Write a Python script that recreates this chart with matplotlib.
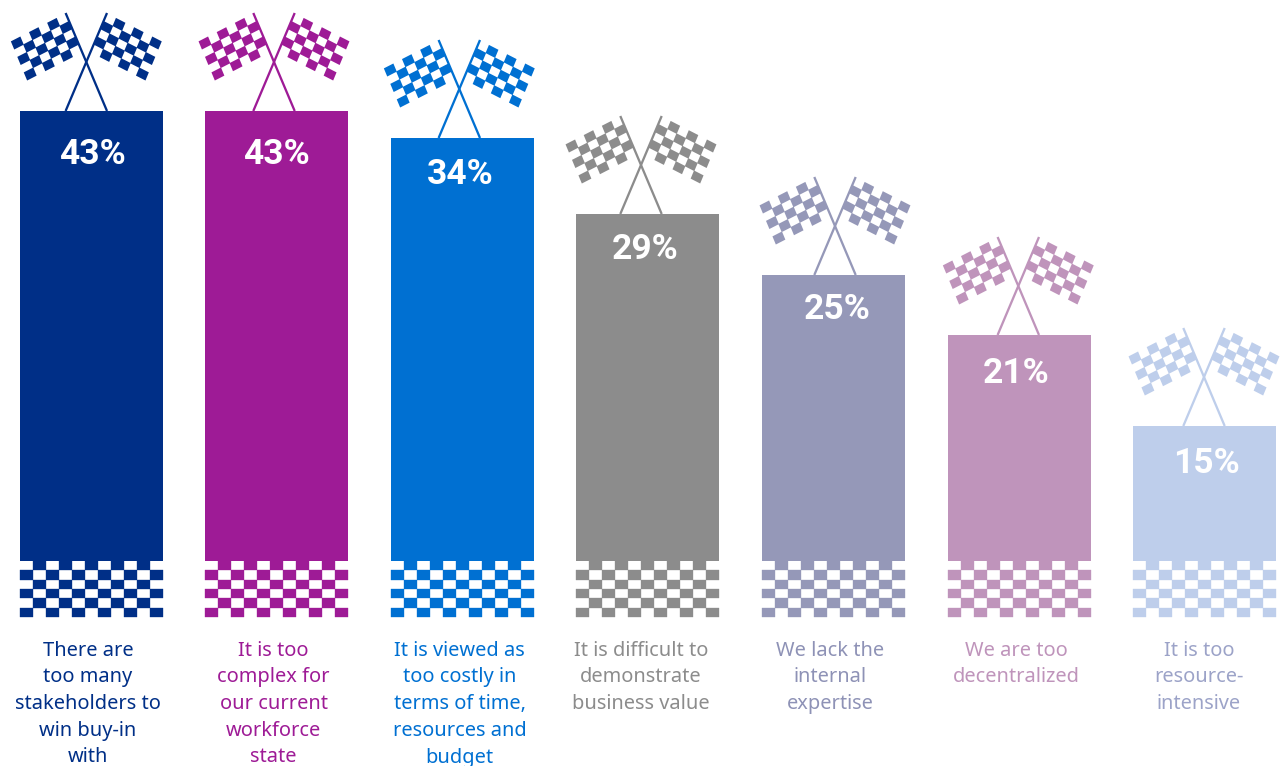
import numpy as np
import matplotlib
matplotlib.use("Agg")
import matplotlib.pyplot as plt
from matplotlib.collections import PolyCollection

# Survey results
categories = [
    "There are\ntoo many\nstakeholders to\nwin buy-in\nwith",
    "It is too\ncomplex for\nour current\nworkforce\nstate",
    "It is viewed as\ntoo costly in\nterms of time,\nresources and\nbudget",
    "It is difficult to\ndemonstrate\nbusiness value",
    "We lack the\ninternal\nexpertise",
    "We are too\ndecentralized",
    "It is too\nresource-\nintensive",
]
values = [43, 43, 34, 29, 25, 21, 15]

# Palette, one colour per category; the captions differ only on the palest one
colors = ["#002F87", "#9E1B96", "#0070D2", "#8C8C8C", "#9598B8", "#BF94BB", "#BECEEB"]
text_colors = ["#002F87", "#9E1B96", "#0070D2", "#8C8C8C", "#8E92B6", "#BF94BB", "#9CA3C8"]

# Layout in figure pixels
W, H = 1287, 766
BAR_W = 143
BASE_Y = 561
TOP_Y = 111
bar_left = [20, 205, 391, 576, 762, 948, 1133]
flag_cx = [86.3, 274, 459.3, 641, 835, 1018.3, 1204]
pct_cx = [92, 276, 460, 645, 837, 1016, 1206]
pct_drop = [40, 40, 33, 32, 31, 35, 34]
text_cx = [88, 273.5, 459.5, 641, 830.5, 1016, 1199]

# The bars use a stepped value axis: height in pixels at each listed value
scale_vals = [0, 15, 21, 25, 29, 34, 43]
scale_px = [0, 135, 226, 286, 347, 423, 450]


def to_px(v):
    return np.interp(v, scale_vals, scale_px)


def from_px(p):
    return np.interp(p, scale_px, scale_vals)


fig = plt.figure(figsize=(W / 100, H / 100), dpi=100, facecolor="white")

ax = fig.add_axes([0, (H - BASE_Y) / H, 1, (BASE_Y - TOP_Y) / H])
ax.set_xlim(0, W)
ax.set_yscale("function", functions=(to_px, from_px))
ax.set_ylim(0, 43)
ax.axis("off")
ax.bar(bar_left, values, width=BAR_W, align="edge", color=colors, linewidth=0)

# Overlay in pixel coordinates for the flags, the chequered strips and the text
ov = fig.add_axes([0, 0, 1, 1])
ov.set_xlim(0, W)
ov.set_ylim(H, 0)
ov.axis("off")
ov.patch.set_alpha(0)

# Chequered strip under a bar
COLS, ROWS = 11, 6
CELL_W = BAR_W / COLS
ROW_PITCH = 56 / ROWS


def draw_strip(left, color):
    polys = []
    for r in range(ROWS):
        y0 = BASE_Y + r * ROW_PITCH
        for c in range((r + 1) % 2, COLS, 2):
            x0 = left + c * CELL_W
            y1 = y0 + ROW_PITCH
            polys.append([(x0, y0), (x0 + CELL_W, y0), (x0 + CELL_W, y1), (x0, y1)])
    ov.add_collection(PolyCollection(polys, facecolors=color, edgecolors=color, linewidths=0.25))


# Chequered flag: grid steps and cell edges of the cloth, relative to the pole crossing
STEP_A = np.array([12.3, 3.1])
STEP_B = np.array([-5.85, 12.4])
CELL_GROW = 1.05
EDGE_U = (STEP_A - STEP_B) / 2 * CELL_GROW
EDGE_V = (STEP_A + STEP_B) / 2 * CELL_GROW
FLAG_ORIGIN = np.array([-69.0, -68.0])
FLAG_CELLS = [(0, 0), (1, 0), (2, 0), (3, 0), (4, 0),
              (1, 1), (2, 1), (3, 1),
              (2, 2),
              (1, -1), (2, -1), (3, -1), (4, -1),
              (2, -2), (3, -2)]
POLE_DX, POLE_RISE = 20.7, 98.0


def draw_flags(cx, top, color):
    polys = []
    for i, j in FLAG_CELLS:
        c = FLAG_ORIGIN + i * STEP_A + j * STEP_B
        quad = [c - EDGE_U / 2 - EDGE_V / 2, c + EDGE_U / 2 - EDGE_V / 2,
                c + EDGE_U / 2 + EDGE_V / 2, c - EDGE_U / 2 + EDGE_V / 2]
        polys.append([(cx + p[0], top + p[1]) for p in quad])
        polys.append([(cx - p[0], top + p[1]) for p in quad])
    ov.add_collection(PolyCollection(polys, facecolors=color, edgecolors="none"))
    for s in (-1, 1):
        ov.plot([cx + s * POLE_DX, cx - s * POLE_DX], [top - POLE_RISE, top],
                color=color, lw=1.65, solid_capstyle="butt")


for v, cat, col, tcol, left, fx, px, drop, tx in zip(
        values, categories, colors, text_colors, bar_left, flag_cx, pct_cx, pct_drop, text_cx):
    top = BASE_Y - float(to_px(v))
    draw_strip(left, col)
    draw_flags(fx, top, col)
    ov.text(px, top + drop, f"{v}%", color="white", ha="center", va="center_baseline",
            family="Roboto", weight="bold", fontsize=25.5)
    for k, line in enumerate(cat.split("\n")):
        ov.text(tx, 655.7 + k * 26.7, line, color=tcol, ha="center", va="baseline",
                family="Noto Sans", weight="medium", fontsize=14.4)

fig.savefig("out.png", dpi=100, facecolor="white")
